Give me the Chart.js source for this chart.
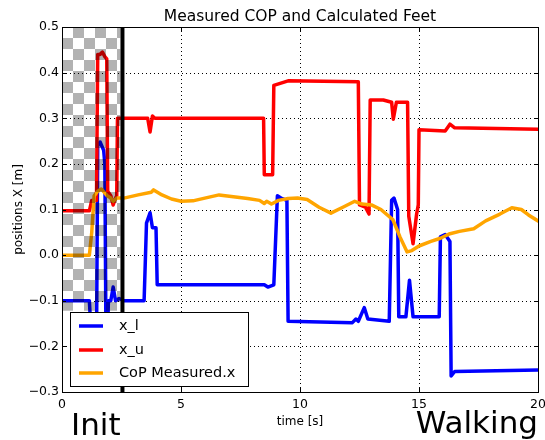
<!DOCTYPE html>
<html><head><meta charset="utf-8">
<script src="https://cdn.jsdelivr.net/npm/chart.js@4/dist/chart.umd.min.js"></script>
<style>html,body{margin:0;padding:0;background:#fff}#wrap{width:545px;height:440px}</style>
</head><body><div id="wrap"><canvas id="c" width="545" height="440"></canvas></div>
<script>
// ---- data ----
const xlTime = [0,1.15,1.25,1.45,1.5,1.6,1.75,1.8,1.85,1.9,1.95,2.05,2.15,2.25,2.4,2.6,3.45,3.55,3.7,3.8,3.95,4.0,8.5,8.65,8.9,9.05,9.2,9.45,9.5,12.2,12.35,12.45,12.7,12.85,13.75,13.85,13.95,14.1,14.15,14.45,14.6,14.75,15.85,15.9,16.1,16.3,16.35,16.5,20];
const xlVal  = [-0.1,-0.1,-0.2,-0.2,0.24,0.248,0.23,0.2,-0.2,-0.2,-0.1,-0.1,-0.07,-0.1,-0.095,-0.1,-0.1,0.07,0.093,0.06,0.06,-0.065,-0.065,-0.07,-0.065,0.13,0.125,0.12,-0.145,-0.148,-0.14,-0.145,-0.115,-0.14,-0.145,0.12,0.125,0.1,-0.135,-0.135,-0.055,-0.135,-0.135,0.04,0.045,0.03,-0.265,-0.255,-0.252];

const xuTime = [0,1.15,1.25,1.45,1.5,1.6,1.7,1.8,1.88,1.92,2.05,2.15,2.25,2.3,2.33,3.6,3.7,3.8,3.9,8.47,8.5,8.85,8.9,9.2,9.5,12.45,12.5,12.75,12.9,12.95,13.5,13.85,13.92,14.05,14.52,14.57,14.75,14.9,14.97,15.0,16.1,16.3,16.5,20];
const xuVal  = [0.097,0.097,0.12,0.12,0.44,0.44,0.445,0.435,0.43,0.14,0.13,0.11,0.125,0.13,0.3,0.3,0.27,0.305,0.3,0.3,0.176,0.176,0.372,0.377,0.382,0.38,0.11,0.105,0.09,0.34,0.34,0.335,0.298,0.335,0.335,0.085,0.025,0.09,0.11,0.275,0.272,0.287,0.279,0.276];

const copTime = [0,1.15,1.25,1.35,1.5,1.65,1.9,2.05,2.15,2.3,2.6,3.2,3.75,3.85,4.2,4.6,5.0,5.5,6.0,6.6,7.2,7.8,8.3,8.5,8.6,8.8,9.1,9.5,9.9,10.3,10.8,11.3,11.8,12.3,12.6,13.0,13.4,13.9,14.2,14.5,14.7,15.0,15.5,15.9,16.3,16.7,17.3,17.8,18.4,18.9,19.3,19.6,20];
const copVal  = [0,0,0.05,0.13,0.14,0.145,0.13,0.125,0.118,0.125,0.125,0.132,0.138,0.143,0.132,0.123,0.118,0.119,0.125,0.132,0.128,0.124,0.12,0.113,0.118,0.112,0.12,0.124,0.125,0.122,0.105,0.092,0.105,0.118,0.112,0.11,0.1,0.078,0.04,0.007,0.01,0.02,0.03,0.037,0.047,0.052,0.058,0.075,0.09,0.104,0.1,0.088,0.075];

const seriesNames = ['x_l','x_u','CoP Measured.x'];
const seriesColors = ['#0000ff','#ff0000','#ffa500'];
const xTicks = [0,5,10,15,20];
const yTicks = [-0.3,-0.2,-0.1,0.0,0.1,0.2,0.3,0.4,0.5];
const initEnd = 2.54;      // black separator (s)
const checkerEnd = 2.45;   // checker region right edge (s)
const checkerBottom = -0.122;
const titleText = 'Measured COP and Calculated Feet';
const xLabel = 'time [s]';
const yLabel = 'positions X [m]';

const FONT = '"DejaVu Sans", sans-serif';
const pts = (t,v) => t.map((x,i)=>({x:x,y:v[i]}));
const fmt = v => Math.abs(v)<1e-9 ? '0.0' : v.toFixed(1).replace('-','\u2212');

const deco = {
  id:'deco',
  beforeDraw(chart){
    const c=chart.ctx; c.save(); c.fillStyle='#fff'; c.fillRect(0,0,chart.width,chart.height); c.restore();
  },
  beforeDatasetsDraw(chart){
    const c=chart.ctx, a=chart.chartArea, xs=chart.scales.x, ys=chart.scales.y;
    c.save(); c.strokeStyle='#000'; c.lineWidth=1; c.setLineDash([1,3]);
    xTicks.forEach(t=>{const x=Math.round(xs.getPixelForValue(t))+0.5; c.beginPath(); c.moveTo(x,a.top); c.lineTo(x,a.bottom); c.stroke();});
    yTicks.forEach(t=>{const y=Math.round(ys.getPixelForValue(t))+0.5; c.beginPath(); c.moveTo(a.left,y); c.lineTo(a.right,y); c.stroke();});
    c.restore();
  },
  afterDatasetsDraw(chart){
    const c=chart.ctx, a=chart.chartArea, xs=chart.scales.x, ys=chart.scales.y;
    // checkerboard overlay
    const x0=xs.getPixelForValue(0), x1=xs.getPixelForValue(checkerEnd);
    const y0=a.top, y1=ys.getPixelForValue(checkerBottom);
    const s=11;
    c.save(); c.beginPath(); c.rect(x0,y0,x1-x0,y1-y0); c.clip();
    c.fillStyle='rgba(0,0,0,0.3)';
    for(let i=0; x0+i*s<x1; i++) for(let j=0; y0+j*s<y1; j++){
      if((i+j)%2===1) c.fillRect(x0+i*s,y0+j*s,s,s);
    }
    c.restore();
    // separator
    c.save(); c.strokeStyle='#000'; c.lineWidth=4;
    const xi=xs.getPixelForValue(initEnd);
    c.beginPath(); c.moveTo(xi,a.top); c.lineTo(xi,a.bottom); c.stroke(); c.restore();
    // frame
    c.save(); c.strokeStyle='#000'; c.lineWidth=1;
    c.strokeRect(Math.round(a.left)+0.5,Math.round(a.top)+0.5,Math.round(a.right-a.left),Math.round(a.bottom-a.top));
    // inside ticks
    const L=4;
    xTicks.forEach(t=>{const x=Math.round(xs.getPixelForValue(t))+0.5; c.beginPath(); c.moveTo(x,a.bottom); c.lineTo(x,a.bottom-L); c.moveTo(x,a.top); c.lineTo(x,a.top+L); c.stroke();});
    yTicks.forEach(t=>{const y=Math.round(ys.getPixelForValue(t))+0.5; c.beginPath(); c.moveTo(a.left,y); c.lineTo(a.left+L,y); c.moveTo(a.right,y); c.lineTo(a.right-L,y); c.stroke();});
    c.restore();
    // legend
    c.save();
    c.fillStyle='#fff'; c.fillRect(70,312,178,74);
    c.strokeStyle='#000'; c.lineWidth=1; c.strokeRect(70.5,312.5,178,74);
    const ly=[326,350,373];
    c.font='14.5px '+FONT; c.textBaseline='middle'; c.textAlign='left';
    seriesNames.forEach((n,i)=>{
      c.strokeStyle=seriesColors[i]; c.lineWidth=3.5; c.beginPath(); c.moveTo(79,ly[i]); c.lineTo(103,ly[i]); c.stroke();
      c.fillStyle='#000'; c.fillText(n,119,ly[i]);
    });
    c.restore();
    // texts
    c.save(); c.fillStyle='#000';
    c.font='15.5px '+FONT; c.textAlign='center'; c.textBaseline='alphabetic';
    c.fillText(titleText,(a.left+a.right)/2,21);
    c.font='12px '+FONT; c.fillText(xLabel,(a.left+a.right)/2,425);
    c.save(); c.translate(22,(a.top+a.bottom)/2); c.rotate(-Math.PI/2); c.fillText(yLabel,0,0); c.restore();
    c.font='31px '+FONT; c.textAlign='left'; c.fillText('Init',71,435);
    c.textAlign='right'; c.fillText('Walking',538,433);
    c.restore();
  }
};

const lineStyle = {borderWidth:3.5,pointRadius:0,tension:0,borderJoinStyle:'round',borderCapStyle:'round'};

new Chart(document.getElementById('c'),{
  type:'line',
  data:{datasets:[
    Object.assign({label:seriesNames[0],data:pts(xlTime,xlVal),borderColor:seriesColors[0],order:2},lineStyle),
    Object.assign({label:seriesNames[1],data:pts(xuTime,xuVal),borderColor:seriesColors[1],order:1},lineStyle),
    Object.assign({label:seriesNames[2],data:pts(copTime,copVal),borderColor:seriesColors[2],order:0},lineStyle)
  ]},
  options:{
    responsive:false, animation:false, devicePixelRatio:1,
    layout:{padding:{left:0,right:7,top:27,bottom:0}},
    plugins:{legend:{display:false},tooltip:{enabled:false},title:{display:false}},
    scales:{
      x:{type:'linear',min:0,max:20,
         afterFit(s){s.height=48;s.paddingLeft=0;s.paddingRight=0;},
         afterBuildTicks(s){s.ticks=xTicks.map(v=>({value:v}));},
         grid:{display:false,drawTicks:false},border:{display:false},
         ticks:{padding:5,color:'#000',font:{family:FONT,size:12.5},maxRotation:0,callback:v=>String(v)}},
      y:{type:'linear',min:-0.3,max:0.5,
         afterFit(s){s.width=62;s.paddingTop=0;s.paddingBottom=0;},
         afterBuildTicks(s){s.ticks=yTicks.map(v=>({value:v}));},
         grid:{display:false,drawTicks:false},border:{display:false},
         ticks:{padding:3,color:'#000',font:{family:FONT,size:12.5},callback:v=>fmt(v)}}
    }
  },
  plugins:[deco]
});
</script></body></html>
